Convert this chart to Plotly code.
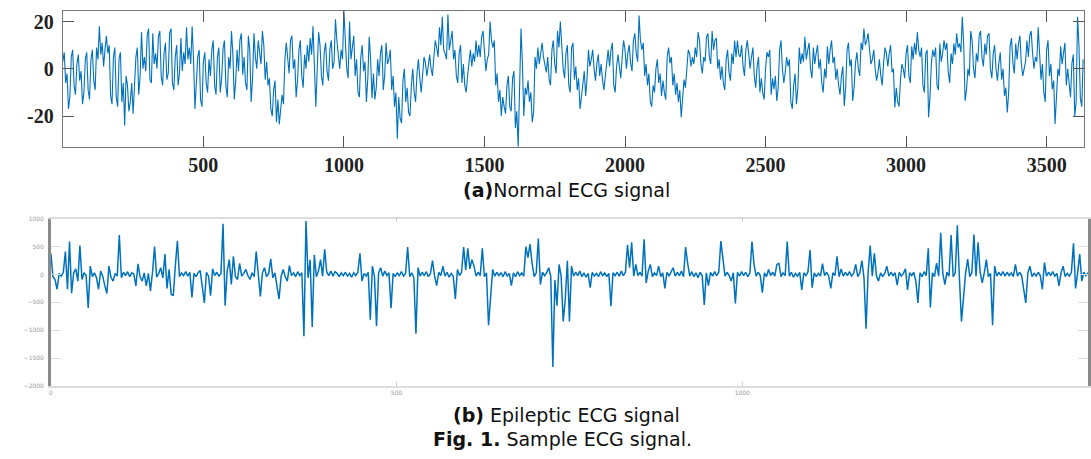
import plotly.graph_objects as go

# ---------------- data ----------------
# (a) Normal ECG signal, samples 0..3630 every 10 (even) and 5..3625 every 10 (odd)
normal_step = 10
normal_ecg_even = [
    3, -6, -17, 5, -7, 2, -5, -15, 4, -9,
    4, -5, 9, 18, 11, 8, 6.5, -11.5, 5, -12,
    4.4, -14, -24, -7, -14, -19, 5, -11, 15.5, 5,
    14, -4.6, 15, 6.5, 13.5, -3, 6.5, -4.6, 15, -6,
    5, -7, 13, 7, 17.6, 9, 18, -17, 5, -13,
    3, -6, 4, 8, -7, 5, -10, 8.6, -7, 5,
    16, -13, 8, 12, -2.5, -6, 14, -14, 15, 0,
    7, 16, -4.6, -7, -17, -9, -22.6, -23.5, -11, 4,
    5, 12, 0, -12, 8, -3, 6, 10, 13, 18,
    -16, 15.5, -3, 7, -1, 8, 0, 21, 6.5, 8,
    24.5, 0, 20, 10, -3, -10, 5, -1, -14, 13.5,
    -12.5, -13, 4, 6.5, -9, 11, 4, -9, -16, -29.6,
    -21, -5, -14, -18.5, -7, -10, -2, -4, -2.5, 2.5,
    1, 0, 5, 9, 17.6, 22, 6.5, 23, 12, 4,
    -3, 6.5, -6, -7, -3, 8, 6.5, 12, 10, 13.5,
    5, 4, 20, 9, -7, -14, -20, -16, -7, -16,
    -4, -25, -33, 17, -20, -11, -14, -22.6, 5, 9,
    6.5, 5, -1.5, -4.6, 8, 2, 16, 20, 0, 6.5,
    -7, 9, -4.6, -9, -17, -4.6, -11.5, 8, 4, 0,
    2.4, -3, -4.6, -3, 8, 8, -7, 1, 0, 5,
    8, 6.5, 2.4, 12, 6.5, 22.5, 8, -3, -7, -14,
    -7, 0, -6, -11.5, -10, 5, 2.4, -7, -11, -14,
    -20.5, -4.6, 0, 6.5, 5, 9, 15.5, 2.4, 5, 13.5,
    5, 16, 12, 0, -4.6, -6, 4, -1.5, 6.5, 12,
    12, 5, 1, 8, 6.5, 5, -3, 1, -10, -10,
    0, 5, -11, -8.6, -13.6, 8, 0, -1.5, 1, -14,
    -7, -15, 9, 6.5, 13.5, 8, 0, 9, 6.5, 0,
    -6, 0, 9.5, 8, 2.4, -4.6, -7, -3, -15.7, 8,
    1, -13.6, 2.4, 0, 11, 17, 12, 8, 4, 0,
    -1.5, -3, 2.4, 6.5, 6.5, -1.5, -16.4, -14, -4.6, 0,
    6.5, -3, 9.5, 11, 15.5, 5, -7, 6.5, -20.5, 2.4,
    5, -7, 10.7, 6.5, 8, -1.5, 6.5, 10.7, 15, 10.7,
    22, -13.6, 0, 16, 0, 6.5, 14, 5, 10.7, 14,
    0, 6.5, 0, 2.4, -4.6, -11.5, -18.5, 9.5, 2.4, 10.7,
    10.7, 2.4, 0, 12, 14, 6.5, 5, 17.6, -4.6, -10,
    8, -3, -8.6, -23.3, 0, 9.5, 8, -7, -6, 2.4,
    -20, 22, -12.5, 4,
]
normal_ecg_odd = [
    7, -2, -12, 8, -11, 6, -1, -10, 7, -13,
    8, -9, 4, 6, 1, 14, 10, -15, 9, -16,
    7, -6, -3, -18, -6, -5, 9, -3, 0, -1,
    17, -6, 2, 0, 16, -7, 11, -2, 17, -9,
    10, -2, -1, 2, 4, 2, 4, -6, 8, -16,
    7, -10, -3, 12, -11, 9, -4, 12, -12, 0,
    6, -5, -1, 15, 5, -9, 8, -4, 5, 12,
    2, 10, 3, -4, -20, -5, -13, -15, -15, 11,
    -2, 14, 4, -5, 12, -8, 0, 3, 6, 4,
    0, 10, -7, 11, -5, 12, 3, 12, 0, 4,
    10, -4, 4, 14, 4, -12, 10, 3, -4, 4,
    -2, -8, -3, 10, -3, 2, 8, -3, -10, -12,
    -23, 0, -8, -20, 0, -14, 4, -10, 5, -3,
    6, -3, 12, 5, 10, 8, 4, 8, 16, 8,
    -6, 10, 2, -10, 3, 1, 3, 5, 5, 16,
    -1, 6, 12, 12, -2, -9, -12, -19, -3, -18,
    -1, -18, -10, 2, -8, -5, -10, -18, 0, 2,
    11, 1, 5, -7, 12, -2, 9, 10, -4, 10,
    -10, 11, 1, -4, -12, -1, -4, 1, 8, -5,
    6, 2, -9, 3, 1, 11, -10, 6, -4, 12,
    0, 10, -1, 15, 3, 12, 11, 2, -2, -16,
    -10, 4, -2, -5, -13, 9, 5, -2, -6, -9,
    -14, -8, 8, 1, 2, 5, 12, -2, 3, 15,
    2, 8, 13, 4, 1, -9, 8, -5, 2, 5,
    6, 10, -3, 12, 0, 9, -8, 5, -4, -13,
    7, 8, -4, -3, -8, 12, -6, 5, 4, -17,
    -2, -8, 2, 3, 4, 11, -4, 2, 10, 4,
    -10, -4, 2, 12, 5, 0, -11, 1, -8, 11,
    4, -8, 7, -3, 8, 10, 15, 2, 8, -5,
    4, -7, 9, 1, 10, 0, -8, -16, 2, -4,
    10, -6, 4, 6, 8, 9, -10, 8, -12, 8,
    9, -9, 3, 12, 11, -6, 2, 6, 9, 7,
    10, -9, -3, 12, -4, 3, 16, 1, 6, 15,
    -4, 10, -5, 7, 0, -8, -10, 13, -2, 4,
    14, -3, 3, 5, 16, 0, 3, 8, 2, -14,
    12, 2, -5, -12, -3, 2, 11, 0, -12, 6,
    -14, 10, -16,
]

# (b) Epileptic ECG signal: one value every 3 samples, samples 0..1500
epileptic_step = 3
epileptic_ecg = [
    380, -40, -90, -265, 20, -30, 40, 410, -265, 590, -335, 30, 100, -120, 520, -90, 30, -20, -600, 150,
    -40, 30, -60, -265, 60, -30, -200, -340, 150, -50, -120, 20, -30, 705, -60, 40, -20, 50, -40, 30,
    10, -205, 190, -40, -120, 30, -205, 20, -295, 40, 500, -50, 20, 120, -60, 365, -250, 90, -355, -380,
    150, 605, -40, 30, -20, 50, -30, 40, -410, 20, -40, 30, 70, -205, -510, 40, -30, -380, 100, -20,
    40, -30, 20, 910, -560, 60, 265, -180, 325, -40, -90, 200, -30, 20, 90, -20, -90, 30, -40, 410,
    -50, -395, 30, 120, -40, 20, 280, -60, 30, -205, -440, -30, 90, -40, -120, 160, -20, 30, -40, 50,
    -20, 30, -1105, 960, -60, 265, -940, 350, -40, 60, 265, -30, 450, 40, -20, 60, -30, 50, 20, -40,
    30, -20, 40, -30, 20, -50, 30, -20, 40, 380, -120, 20, -30, 40, -810, 150, -40, -925, 30, 120,
    -30, 60, -20, 30, -605, 20, -40, 30, -20, 50, -30, 20, 490, -40, 30, -60, -1060, 120, -30, 40,
    -20, 50, -40, 20, 250, -30, -200, 40, -20, 150, -30, 40, -50, 20, -30, -440, 90, -20, 40, 490,
    80, 470, 100, 265, 150, -30, 40, -20, 470, -40, 30, -910, -470, 90, -30, 40, -20, 30, -40, 50,
    -30, 20, -200, 30, -40, 50, -20, 30, -30, 500, 300, 545, 200, -40, 30, 645, -180, 40, -20, 30,
    120, -40, -1660, -100, -560, 180, -30, -840, -440, 247, -840, 150, -30, 40, -20, 60, -40, 30, -50, 20,
    -235, 40, -30, 20, -40, 50, -20, 30, -40, 20, -570, 30, -20, 40, -30, 60, -20, 40, 530, 120,
    575, -30, 180, -20, 40, -30, 630, -150, 60, 180, -40, 30, -20, 150, -40, 30, -250, 40, -30, 50,
    120, -30, 40, -20, 60, -40, 490, 200, -30, 50, -40, 30, -60, 40, -20, -545, 30, -200, 40, -30,
    50, -20, 40, 600, 295, -30, 40, -20, -120, 30, -520, 40, -30, 50, -20, 40, -40, 30, 590, 180,
    -30, 40, -20, -325, 30, -40, 90, -20, 40, -30, 180, 200, -40, 30, -20, 590, -30, 40, -50, 20,
    -30, 40, -275, 30, -20, 50, 440, -235, 30, -40, 20, -30, 195, -20, 40, -30, -250, 30, -20, 325,
    -40, 100, -30, 40, -20, 50, -30, 20, 180, -40, 30, 250, -60, -970, 40, 520, -30, 380, -20, -120,
    30, -40, 20, 150, -30, 40, -20, 30, -190, 40, -30, 20, 100, -275, 30, -20, 40, -120, -510, 30,
    -40, 50, -20, 470, -590, 30, -40, 205, -30, 745, 20, -180, 40, -30, 705, -40, 30, 880, -60, -840,
    -410, 30, 275, -40, 30, 715, -30, 575, 40, -150, 30, 265, -40, 20, -910, 150, -30, 40, -20, 50,
    -30, 40, -20, 30, -40, 180, -30, 40, -20, -250, -510, 30, 150, -40, 20, -30, 40, -20, -265, 215,
    -30, 40, -20, 50, -30, 20, -205, 30, 150, -40, 20, -30, 40, 560, -250, 30, 365, -120, 40, -20,
    30,
]

normal_xticks = [500, 1000, 1500, 2000, 2500, 3000, 3500]
normal_yticks = [-20, 0, 20]
normal_yticklabels = ["-20", "0", "20"]
epi_xticks = [0, 500, 1000, 1500]
epi_yticks = [-2000, -1500, -1000, -500, 0, 500, 1000]

caption_a = "<b>(a)</b>Normal ECG signal"
caption_b = "<b>(b)</b> Epileptic ECG signal"
caption_fig = "<b>Fig. 1.</b> Sample ECG signal."

# ---------------- figure ----------------
W, H = 1091, 459
BLUE = "#0072BD"

normal_x, normal_y = [], []
for i, v in enumerate(normal_ecg_even):
    normal_x.append(i * normal_step)
    normal_y.append(v)
    if i < len(normal_ecg_odd):
        normal_x.append(i * normal_step + normal_step // 2)
        normal_y.append(normal_ecg_odd[i])

epi_x = [i * epileptic_step for i in range(len(epileptic_ecg))]

fig = go.Figure()
fig.add_trace(go.Scatter(x=normal_x, y=normal_y, mode="lines",
                         line=dict(color=BLUE, width=1.1),
                         xaxis="x", yaxis="y", showlegend=False, hoverinfo="skip"))
fig.add_trace(go.Scatter(x=epi_x, y=epileptic_ecg, mode="lines",
                         line=dict(color=BLUE, width=1.5),
                         xaxis="x2", yaxis="y2", showlegend=False, hoverinfo="skip"))

top_font = dict(family="Liberation Serif", size=20, color="#222222", weight="bold")
small_font = dict(family="DejaVu Sans", size=6, color="#9a9a9a")
cap_font = dict(family="DejaVu Sans", size=19, color="#111111")

fig.update_layout(
    width=W, height=H,
    margin=dict(l=0, r=0, t=0, b=0),
    paper_bgcolor="white", plot_bgcolor="white",
    xaxis=dict(domain=[61 / W, 1085 / W], range=[0, 3633], anchor="y",
               tickvals=normal_xticks, ticks="inside", ticklen=11, tickwidth=1.2,
               tickcolor="#555555", showline=True, linecolor="#777777", linewidth=1.3,
               mirror="ticks", showgrid=False, zeroline=False,
               tickfont=top_font, ticklabelstandoff=0),
    yaxis=dict(domain=[314 / H, 452 / H], range=[-33, 24.5], anchor="x",
               tickvals=normal_yticks, ticktext=normal_yticklabels,
               ticks="inside", ticklen=11, tickwidth=1.2, tickcolor="#555555",
               showline=True, linecolor="#777777", linewidth=1.3,
               mirror="ticks", showgrid=False, zeroline=False,
               tickfont=top_font, ticklabelstandoff=4),
    xaxis2=dict(domain=[49 / W, 1089 / W], range=[0, 1500], anchor="y2",
                tickvals=epi_xticks, ticks="inside", ticklen=4, tickwidth=1,
                tickcolor="#cccccc", showline=True, linecolor="#dddddd", linewidth=1.5,
                mirror="ticks", showgrid=False, zeroline=False,
                tickfont=small_font, ticklabelstandoff=0),
    yaxis2=dict(domain=[71 / H, 241 / H], range=[-2000, 1000], anchor="x2",
                tickvals=epi_yticks, ticks="inside", ticklen=10, tickwidth=1,
                tickcolor="#dddddd", showline=True, linecolor="#8a8a8a", linewidth=2.5,
                mirror="ticks", showgrid=False, zeroline=False,
                tickfont=small_font, ticklabelstandoff=3),
    annotations=[
        dict(text=caption_a, x=566 / W, y=1 - 189 / H, xref="paper", yref="paper",
             showarrow=False, xanchor="center", yanchor="middle", font=cap_font),
        dict(text=caption_b, x=566 / W, y=1 - 417 / H, xref="paper", yref="paper",
             showarrow=False, xanchor="center", yanchor="middle", font=cap_font),
        dict(text=caption_fig, x=562 / W, y=1 - 442 / H, xref="paper", yref="paper",
             showarrow=False, xanchor="center", yanchor="middle", font=cap_font),
    ],
)

fig.write_html("out.html",
               config={"displayModeBar": False},
               post_script="document.body.style.margin='0';document.body.style.padding='0';")
